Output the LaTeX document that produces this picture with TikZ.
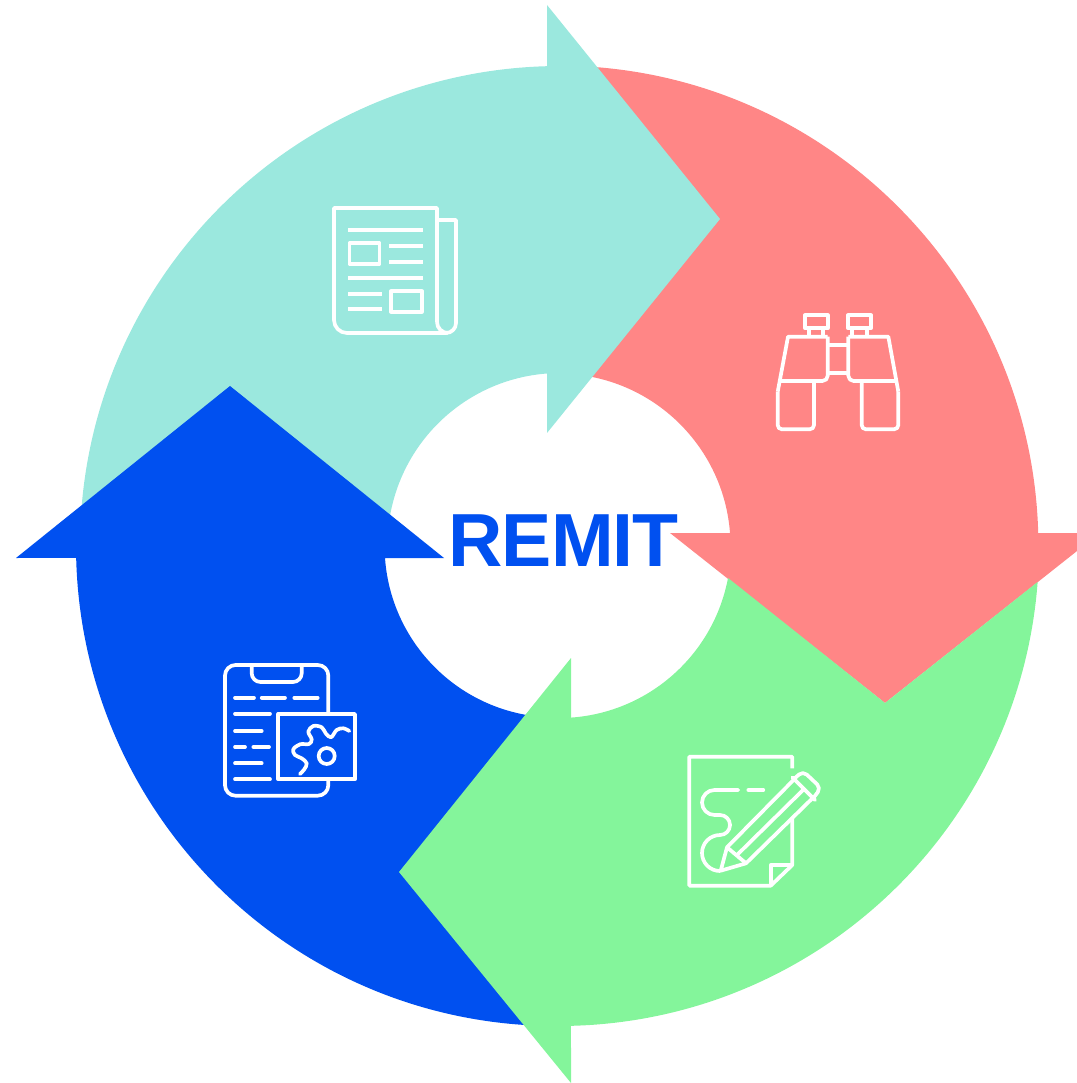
\documentclass[tikz,border=0pt]{standalone}
\usepackage{fontspec}
\setmainfont{Liberation Sans}
\definecolor{remitteal}{HTML}{9BE8DE}
\definecolor{remitred}{HTML}{FF8686}
\definecolor{remitgreen}{HTML}{84F59B}
\definecolor{remitblue}{HTML}{0050F0}
\begin{document}
\begin{tikzpicture}[x=0.01cm,y=-0.01cm]
    \tikzstyle{icon} = [draw=white,line width=1.05pt,line join=round]
    \tikzstyle{stroke} = [draw=white,line width=1.05pt,line cap=round,line join=round]

    \useasboundingbox (0,0) rectangle (1077,1083);
    \coordinate (Or) at (558,546);
    \coordinate (Ot) at (560,546);
    \coordinate (Ob) at (556,546);
    \coordinate (Og) at (559,546);

    % the four arrows, each one runs under the tip of the next
    \fill[remitred] (Or) ++(-87.5:480.4) arc[start angle=-87.5,end angle=-1.55,radius=480.4]
        -- (1077,533) -- (1077,551) -- (885,703) -- (670,533) -- (730,533)
        arc[start angle=-4.32,end angle=-85,radius=172.4] -- cycle;

    \fill[remitteal] (Ot) ++(-177:480) arc[start angle=-177,end angle=-91.55,radius=480]
        -- (547,5) -- (720,219) -- (547,433) -- (547,373.5)
        arc[start angle=-94.3,end angle=-171,radius=172.5] -- cycle;

    \fill[remitblue] (Ob) ++(90.5:480) arc[start angle=90.5,end angle=178.57,radius=480]
        -- (16,558) -- (230,386) -- (444,558) -- (385,558)
        arc[start angle=176,end angle=97,radius=171.5] -- cycle;

    \fill[remitgreen] (Og) ++(4.3:480) arc[start angle=4.3,end angle=88.57,radius=480]
        -- (571,1083) -- (399,872) -- (571,658) -- (571,717.6)
        arc[start angle=86,end angle=10.7,radius=172] -- (885,703) -- cycle;

    \node[text=remitblue,font=\fontsize{21.4}{24}\selectfont\bfseries\addfontfeatures{LetterSpace=-1.5}] (title) at (563.5,540.5) {REMIT};

    % newspaper
    \draw[icon] (437,322) -- (437,208) -- (334,208) -- (334,320)
        arc[start angle=180,end angle=90,radius=13] -- (446,333)
        arc[start angle=90,end angle=0,radius=10] -- (456,220) -- (437,220);
    \draw[icon] (437,322) arc[start angle=180,end angle=90,radius=11];
    \draw[icon] (348,230) -- (423,230);
    \draw[icon] (349.5,243) rectangle (379.5,264);
    \draw[icon] (389,245.7) -- (423,245.7);
    \draw[icon] (389,261.7) -- (423,261.7);
    \draw[icon] (348,277.7) -- (423,277.7);
    \draw[icon] (348,294) -- (382,294);
    \draw[icon] (348,308.7) -- (382,308.7);
    \draw[icon] (391,291.3) rectangle (422,311.7);

    % binoculars
    \draw[icon] (805,315.3) rectangle (827.7,328.3);
    \draw[icon] (848,315.3) rectangle (871,328.3);
    \draw[icon] (809.3,328.3) -- (809.3,336.7);
    \draw[icon] (823.3,328.3) -- (823.3,336.7);
    \draw[icon] (852.3,328.3) -- (852.3,336.7);
    \draw[icon] (866.7,328.3) -- (866.7,336.7);
    \draw[icon,rounded corners=1.5pt] (780,381) -- (827.7,381) -- (827.7,336.7);
    \draw[icon] (827.7,336.7) -- (788,336.7) -- (777.7,391.7);
    \draw[icon,rounded corners=1.2pt] (777.7,391.7) -- (777.7,429.3) -- (814,429.3) -- (814,381);
    \draw[icon,rounded corners=1.5pt] (896.5,381) -- (848.3,381) -- (848.3,336.7);
    \draw[icon] (848.3,336.7) -- (888.3,336.7) -- (898.3,391.7);
    \draw[icon,rounded corners=1.2pt] (898.3,391.7) -- (898.3,429.3) -- (861.7,429.3) -- (861.7,381);
    \draw[icon] (827.7,345) -- (848.3,345);
    \draw[icon] (827.7,372.7) -- (848.3,372.7);

    % note and pencil
    \draw[icon] (792.3,768.3) -- (792.3,756.7) -- (689.3,756.7) -- (689.3,885.7) -- (770.7,885.7)
        -- (792.3,865) -- (792.3,818);
    \draw[icon] (770.7,885.7) -- (770.7,865) -- (792.3,865);
    \draw[stroke] (738.3,790) -- (714.5,790) arc[start angle=-90,end angle=-270,radius=12.5]
        -- (720,815) arc[start angle=-90,end angle=90,radius=10]
        arc[start angle=-90,end angle=-270,radius=18];
    \draw[stroke] (748.3,790) -- (763.3,790);
    \draw[icon] (794,779.5) -- (727,847.3) -- (720.7,870.7) -- (746,863.3) -- (814,796.7);
    \draw[icon] (727,847.3) -- (746,863.3);
    \draw[icon] (737,855) -- (803,790);
    \draw[stroke] (792.3,777.3) -- (815,800);
    \draw[icon,rounded corners=1.5pt] (795,778) -- (803,771) -- (821,788) -- (813.3,798);

    % document and map
    \draw[icon,rounded corners=3pt] (328.3,780) -- (328.3,795.7) -- (225,795.7) -- (225,665) -- (328.3,665) -- (328.3,713.3);
    \draw[icon,rounded corners=2.5pt] (251.7,665) -- (251.7,682) -- (301.7,682) -- (301.7,665);
    \draw[stroke] (235,697.7) -- (254,697.7);
    \draw[stroke] (261.7,697.7) -- (285,697.7);
    \draw[stroke] (294.3,697.7) -- (317.7,697.7);
    \draw[stroke] (235,713.7) -- (270,713.7);
    \draw[stroke] (235,731) -- (261.7,731);
    \draw[stroke] (235,747) -- (245,747);
    \draw[stroke] (253.3,747) -- (269,747);
    \draw[stroke] (235,763.3) -- (261.7,763.3);
    \draw[stroke] (235,779.3) -- (270,779.3);
    \draw[icon] (278.3,714) rectangle (355,779.3);
    \draw[stroke] plot[smooth,tension=0.6] coordinates {(349.3,731) (343.3,728.3) (336.7,730) (331,737.3) (325.7,733.3) (321.7,727.3) (313.3,726) (308.3,731.7) (311.7,739.3) (309,744) (300,744.3) (293.3,749.3) (295,755) (301.7,758.3) (306.7,763.3) (304.3,769.3) (300,774)};
    \draw[icon] (326.7,756) circle (8);
\end{tikzpicture}
\end{document}
